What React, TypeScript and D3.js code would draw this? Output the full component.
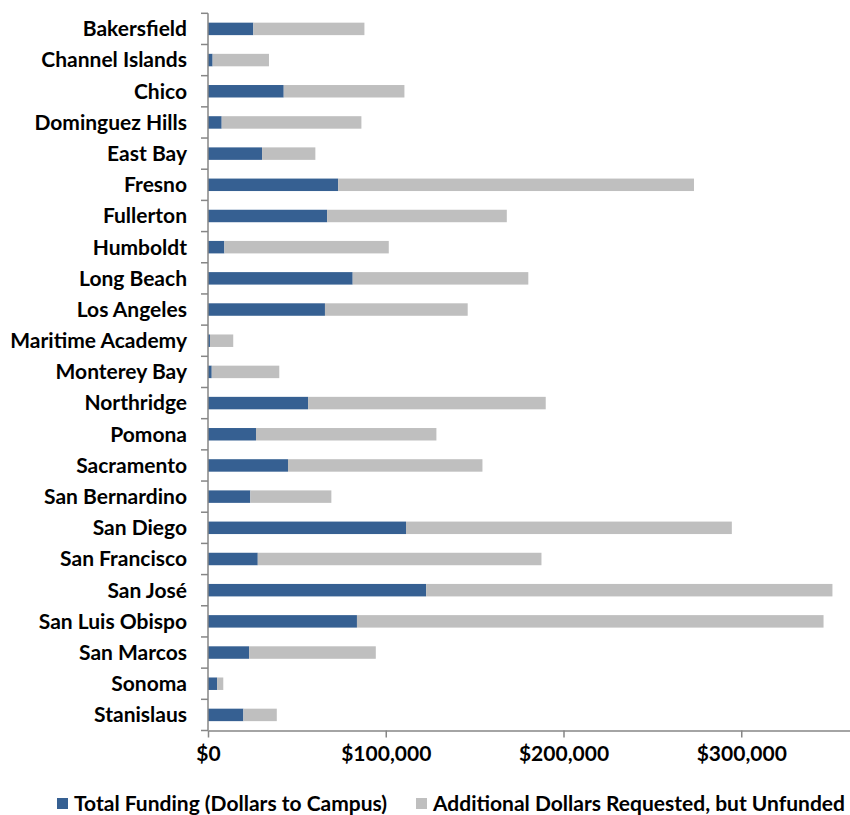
import React, { useEffect, useRef } from 'react';
import * as d3 from 'd3';

const campuses = [
  'Bakersfield', 'Channel Islands', 'Chico', 'Dominguez Hills', 'East Bay', 'Fresno',
  'Fullerton', 'Humboldt', 'Long Beach', 'Los Angeles', 'Maritime Academy', 'Monterey Bay',
  'Northridge', 'Pomona', 'Sacramento', 'San Bernardino', 'San Diego ', 'San Francisco',
  'San José ', 'San Luis Obispo', 'San Marcos', 'Sonoma', 'Stanislaus',
];

// Total Funding (Dollars to Campus)
const funded = [
  25500, 2600, 42600, 7700, 30400, 73200, 67000, 9200, 81400, 65800, 1100, 2100,
  56300, 27000, 45000, 23800, 111400, 28000, 122700, 83800, 23100, 5100, 19900,
];

// Additional Dollars Requested, but Unfunded
const unfunded = [
  62500, 31700, 67900, 78600, 30000, 200200, 101100, 92500, 98800, 80300, 13100, 38000,
  133700, 101500, 109400, 45600, 183300, 159600, 228600, 262500, 71300, 3500, 18800,
];

const xTicks = [0, 100000, 200000, 300000];

const seriesNames = ['Total Funding (Dollars to Campus)', 'Additional Dollars Requested, but Unfunded'];
const colors = ['#366092', '#BFBFBF'];

const W = 850;
const H = 815;
const FONT = 'Lato, "Open Sans", sans-serif';

const App: React.FC = () => {
  const ref = useRef<SVGSVGElement>(null);

  useEffect(() => {
    document.body.style.margin = '0';
    document.body.style.overflow = 'hidden';

    const svg = d3.select(ref.current);
    svg.selectAll('*').remove();

    const left = 208;
    const top = 13.3;
    const bottom = 730.5;

    // axis runs to $400,000, past the right edge of the picture
    const x = d3.scaleLinear().domain([0, 400000]).range([left, left + 711]);
    const y = d3.scaleBand().domain(campuses).range([top, bottom]).paddingInner(0.6).paddingOuter(0.3);

    const rows = campuses.map((c, i) => ({ c, a: funded[i], b: unfunded[i] }));
    const stacked = d3.stack<any>().keys(['a', 'b'])(rows);

    svg.append('g')
      .selectAll('g')
      .data(stacked)
      .enter()
      .append('g')
      .attr('fill', (d, i) => colors[i])
      .selectAll('rect')
      .data(d => d)
      .enter()
      .append('rect')
      .attr('x', d => x(d[0]))
      .attr('y', (d: any) => y(d.data.c)!)
      .attr('width', d => x(d[1]) - x(d[0]))
      .attr('height', y.bandwidth());

    // category axis: ticks sit on the band boundaries
    const band = (bottom - top) / campuses.length;
    const ya = svg.append('g');
    ya.append('line')
      .attr('x1', left).attr('x2', left)
      .attr('y1', top).attr('y2', bottom)
      .attr('stroke', '#868686').attr('stroke-width', 1.5);
    ya.selectAll('.tk')
      .data(d3.range(campuses.length + 1))
      .enter()
      .append('line')
      .attr('x1', left - 7).attr('x2', left)
      .attr('y1', i => top + i * band).attr('y2', i => top + i * band)
      .attr('stroke', '#868686').attr('stroke-width', 1.5);
    ya.selectAll('text')
      .data(campuses)
      .enter()
      .append('text')
      .attr('x', 187)
      .attr('y', d => y(d)! + y.bandwidth() / 2)
      .attr('dy', '0.35em')
      .attr('text-anchor', 'end')
      .style('font-family', FONT)
      .style('font-weight', 700)
      .style('font-size', '21px')
      .attr('fill', '#000')
      .text(d => d);

    const xa = svg.append('g')
      .attr('transform', `translate(0,${bottom})`)
      .call(d3.axisBottom(x).tickValues(xTicks).tickSize(7).tickSizeOuter(0).tickPadding(9)
        .tickFormat(d => '$' + d3.format(',')(d as number)));
    xa.select('.domain').attr('stroke', '#868686').attr('stroke-width', 1.5);
    xa.selectAll('line').attr('stroke', '#868686').attr('stroke-width', 1.5);
    xa.selectAll('text')
      .style('font-family', FONT)
      .style('font-weight', 700)
      .style('font-size', '21px')
      .attr('fill', '#000');

    // legend
    const legX = [57, 416];
    const lg = svg.append('g');
    seriesNames.forEach((name, i) => {
      lg.append('rect')
        .attr('x', legX[i]).attr('y', 798)
        .attr('width', 11).attr('height', 11)
        .attr('fill', colors[i]);
      lg.append('text')
        .attr('x', legX[i] + 17).attr('y', 804)
        .attr('dy', '0.35em')
        .style('font-family', FONT)
        .style('font-weight', 700)
        .style('font-size', '21px')
        .attr('fill', '#000')
        .text(name);
    });
  }, []);

  return <svg ref={ref} width={W} height={H} style={{ display: 'block' }}></svg>;
};

export default App;
